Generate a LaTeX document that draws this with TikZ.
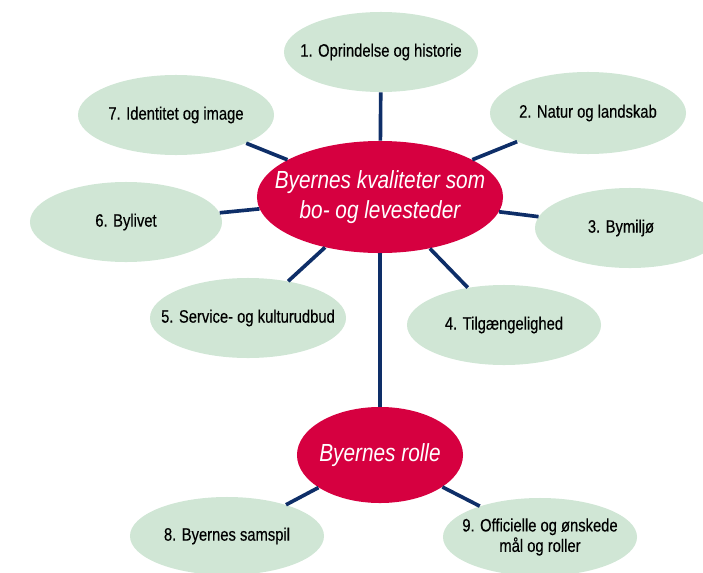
\documentclass[tikz,border=0pt]{standalone}
\usepackage{fontspec}
\setmainfont{Liberation Sans}[FakeStretch=0.84]
\newfontfamily\labelfont{Liberation Sans}[FakeStretch=0.82,FakeBold=0.35]
\usepackage{xcolor}
\usetikzlibrary{shapes.geometric}
\definecolor{bubblegreen}{RGB}{208,230,213}
\definecolor{hubred}{RGB}{214,0,64}
\definecolor{linknavy}{RGB}{14,46,104}

\begin{document}
\begin{tikzpicture}[
  x=0.025cm,y=-0.025cm,
  font=\labelfont\fontsize{12.8}{14.5}\selectfont,
  bubble/.style={ellipse,fill=bubblegreen,minimum width=4.85cm,minimum height=2cm,inner sep=0pt},
  hub/.style={ellipse,fill=hubred,inner sep=0pt},
  hubtext/.style={text=white,align=center,font=\rmfamily\fontsize{17.6}{21}\selectfont\itshape},
  link/.style={draw=linknavy,line width=2.6pt}
]
\useasboundingbox (0,0) rectangle (703,572);
\clip (0,0) rectangle (703,572);
% hubs
\node[hub,minimum width=6.15cm,minimum height=2.8cm] (main) at (380,197) {};
\node[hub,minimum width=4.15cm,minimum height=2.4cm] (rolle) at (380,455) {};
% outer bubbles
\node[bubble] (b1) at (381,52) {};
\node[bubble,minimum width=4.9cm,minimum height=2.05cm] (b2) at (588,113) {};
\node[bubble,minimum width=4.75cm] (b3) at (630,228) {};
\node[bubble] (b4) at (504,325) {};
\node[bubble,minimum width=4.9cm] (b5) at (248,318) {};
\node[bubble,minimum width=4.8cm] (b6) at (126,222) {};
\node[bubble,minimum width=4.9cm] (b7) at (176,115) {};
\node[bubble,minimum height=1.95cm] (b8) at (227,536) {};
\node[bubble,minimum height=1.95cm] (b9) at (540,537) {};
% links
\foreach \b in {b1,b2,b3,b4,b5,b6,b7} {
  \draw[link] (main) -- (\b);
}
\draw[link] (main) -- (rolle);
\draw[link] (rolle) -- (b8);
\draw[link] (rolle) -- (b9);
% texts
\node[hubtext] (tmain) at (main) {Byernes kvaliteter som\\bo- og levesteder};
\node[hubtext] (trolle) at (rolle) {Byernes rolle};
\node (t1) at (b1) {1. Oprindelse og historie};
\node (t2) at (b2) {2. Natur og landskab};
\node (t3) at (621,228) {3. Bymiljø};
\node (t4) at (b4) {4. Tilgængelighed};
\node (t5) at (b5) {5. Service- og kulturudbud};
\node (t6) at (b6) {6. Bylivet};
\node (t7) at (b7) {7. Identitet og image};
\node (t8) at (b8) {8. Byernes samspil};
\node[align=center] (t9) at (b9) {9. Officielle og ønskede\\mål og roller};
\end{tikzpicture}
\end{document}
